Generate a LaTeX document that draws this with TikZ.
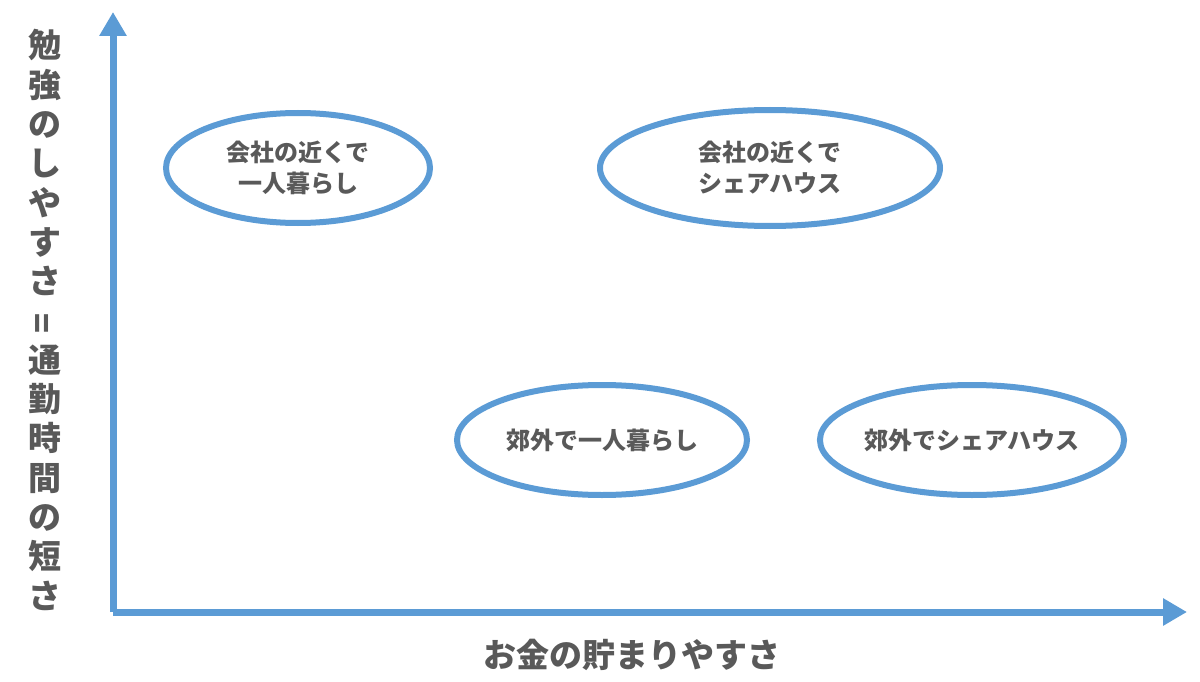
\documentclass[tikz,border=0pt]{standalone}
\usepackage{fontspec}
\newfontfamily\jp{Noto Sans CJK JP}
\usetikzlibrary{shapes.geometric,arrows.meta}
\definecolor{axisblue}{HTML}{5B9BD5}
\definecolor{labelgray}{HTML}{595959}
\begin{document}
\begin{tikzpicture}[x=1pt,y=-1pt]

  % Definitions
  \tikzset{option/.style={ellipse, draw=axisblue, line width=6pt, text=labelgray, font=\jp\bfseries\fontsize{24}{31}\selectfont, align=center, inner sep=0pt}}
  \tikzset{axis/.style={draw=axisblue, line width=7pt, -{Triangle[length=24pt,width=26pt]}}}

  \useasboundingbox (0,0) rectangle (1200,682);

  \coordinate (O) at (113,612);
  \coordinate (ytop) at (113,12);
  \coordinate (xend) at (1187,612);
  \draw [axis] (O) -- (ytop);
  \draw [axis] (O) -- (xend);

  \node (nearAlone) [option, minimum width=264pt, minimum height=110pt] at (298,168) {会社の近くで\\一人暮らし};
  \node (nearShare) [option, minimum width=340pt, minimum height=116pt] at (770,168) {会社の近くで\\シェアハウス};
  \node (farAlone) [option, minimum width=290pt, minimum height=110pt] at (602,440) {郊外で一人暮らし};
  \node (farShare) [option, minimum width=300pt, minimum height=110pt] at (972,440) {郊外でシェアハウス};

  \node (xlabel) [text=labelgray, font=\jp\bfseries\fontsize{33}{33}\selectfont] at (632,655) {お金の貯まりやすさ};
  \node (ylabel) [text=labelgray, font=\jp\bfseries\fontsize{33}{39.3}\selectfont, align=center] at (45,320)
    {勉\\強\\の\\し\\や\\す\\さ\\\rotatebox{90}{=}\\通\\勤\\時\\間\\の\\短\\さ};

\end{tikzpicture}
\end{document}
